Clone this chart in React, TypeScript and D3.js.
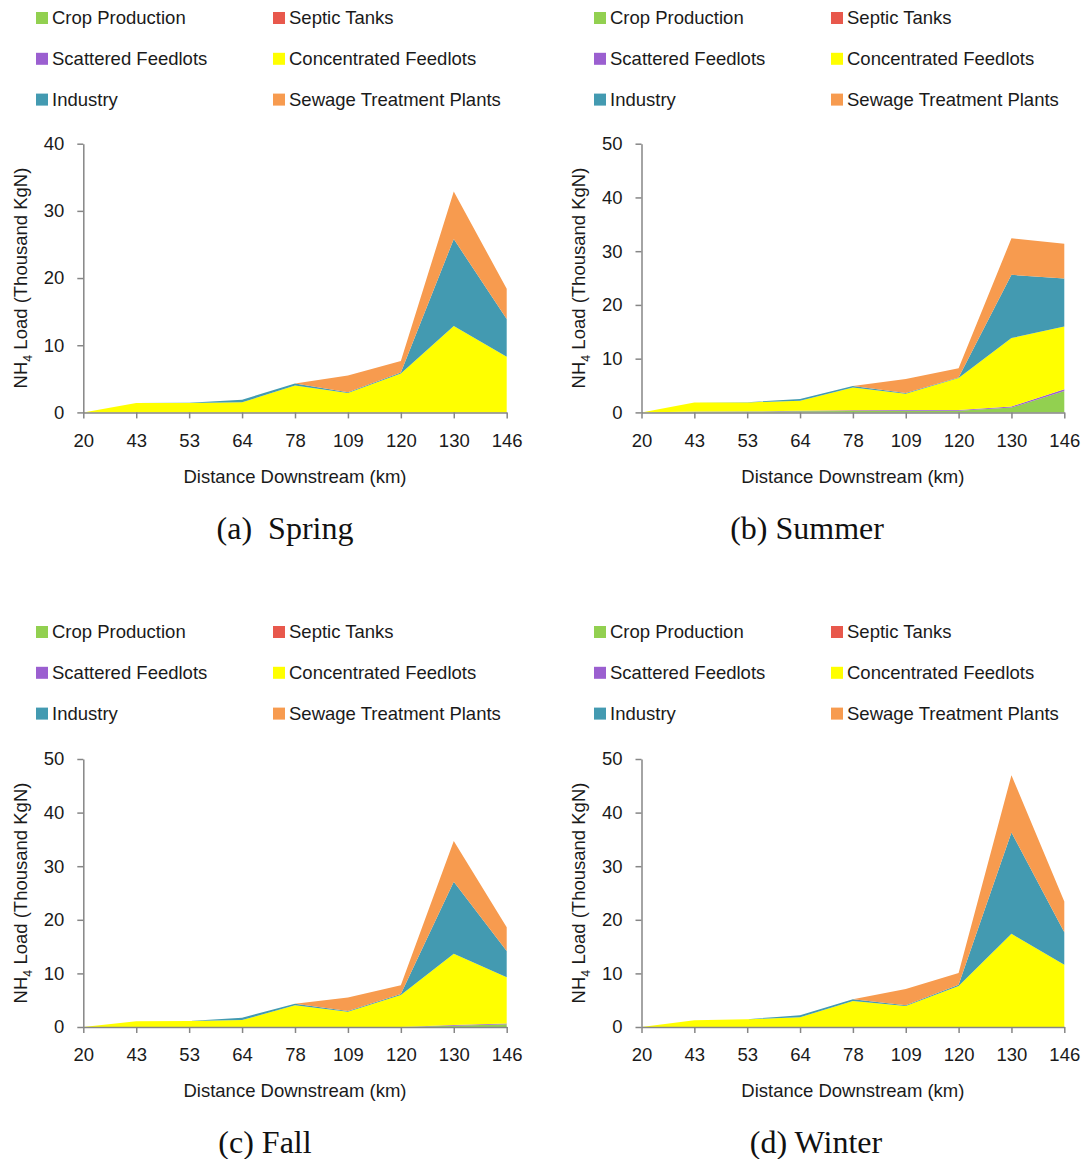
import React, { useEffect, useRef } from 'react';
import * as d3 from 'd3';

const distances = ['20', '43', '53', '64', '78', '109', '120', '130', '146'];
const sources = ['Crop Production', 'Septic Tanks', 'Scattered Feedlots', 'Concentrated Feedlots', 'Industry', 'Sewage Treatment Plants'];
const colors = ['#92d050', '#e8584c', '#9b5fd0', '#ffff00', '#439ab1', '#f79b4f'];

// values in thousand kgN, one array per source, per season
const springCrop = [0, 0, 0, 0, 0, 0, 0, 0, 0];
const springSeptic = [0, 0, 0, 0, 0, 0, 0, 0, 0];
const springScattered = [0, 0, 0, 0, 0, 0, 0, 0, 0];
const springConcentrated = [0, 1.39, 1.4, 1.5, 4.0, 2.9, 5.8, 12.85, 8.3];
const springIndustry = [0, 0, 0.05, 0.4, 0.3, 0.1, 0.15, 12.95, 5.6];
const springSewage = [0, 0, 0, 0, 0, 2.5, 1.7, 7.1, 4.5];

const summerCrop = [0, 0.1, 0.15, 0.2, 0.25, 0.3, 0.3, 0.9, 4.0];
const summerSeptic = [0, 0, 0, 0, 0, 0, 0, 0, 0];
const summerScattered = [0, 0.05, 0.05, 0.1, 0.15, 0.15, 0.15, 0.2, 0.3];
const summerConcentrated = [0, 1.71, 1.66, 1.87, 4.25, 3.02, 5.94, 12.73, 11.7];
const summerIndustry = [0, 0, 0.04, 0.31, 0.25, 0.13, 0.11, 11.77, 8.9];
const summerSewage = [0, 0, 0, 0, 0, 2.6, 1.7, 6.8, 6.5];

const fallCrop = [0, 0, 0, 0, 0, 0, 0, 0.25, 0.5];
const fallSeptic = [0, 0, 0, 0, 0, 0, 0, 0, 0];
const fallScattered = [0, 0, 0, 0, 0, 0, 0, 0.1, 0.15];
const fallConcentrated = [0, 1.05, 1.1, 1.3, 4.04, 2.86, 5.96, 13.3, 8.65];
const fallIndustry = [0, 0, 0.02, 0.44, 0.31, 0.14, 0.19, 13.44, 4.9];
const fallSewage = [0, 0, 0, 0, 0, 2.5, 1.65, 7.6, 4.4];

const winterCrop = [0, 0, 0, 0, 0, 0, 0, 0, 0];
const winterSeptic = [0, 0, 0, 0, 0, 0, 0, 0, 0];
const winterScattered = [0, 0, 0, 0, 0, 0, 0, 0, 0];
const winterConcentrated = [0, 1.24, 1.43, 1.8, 4.84, 3.91, 7.64, 17.39, 11.6];
const winterIndustry = [0, 0, 0.03, 0.37, 0.32, 0.13, 0.25, 18.9, 6.1];
const winterSewage = [0, 0, 0, 0, 0, 3.04, 2.17, 10.7, 5.7];

const yTicksSpring = [0, 10, 20, 30, 40];
const yTicksOther = [0, 10, 20, 30, 40, 50];

const font = 'Liberation Sans, Arial, sans-serif';
const fontSize = 18.5;
const textColor = '#1a1a1a';
const axisColor = '#868686';

type PanelProps = {
  series: number[][];
  yTicks: number[];
  x0: number; x1: number; yTop: number; yZero: number;
  legendX: number; legendY: number;
  caption: string; captionX: number;
};

function Panel(p: PanelProps) {
  const ref = useRef<SVGGElement>(null);

  useEffect(() => {
    const g = d3.select(ref.current);
    g.selectAll('*').remove();

    const rows = distances.map((d, i) => {
      const r: any = { dist: d };
      sources.forEach((s, j) => { r[s] = p.series[j][i]; });
      return r;
    });

    const x = d3.scalePoint().domain(distances).range([p.x0, p.x1]);
    const y = d3.scaleLinear().domain([0, d3.max(p.yTicks)!]).range([p.yZero, p.yTop]);

    const stacked = d3.stack().keys(sources)(rows);
    const area = d3.area<any>()
      .x(d => x(d.data.dist)!)
      .y0(d => y(d[0]))
      .y1(d => y(d[1]));

    g.selectAll('path.layer')
      .data(stacked)
      .enter()
      .append('path')
      .attr('class', 'layer')
      .attr('d', area)
      .attr('fill', (d, i) => colors[i]);

    const yAxis = g.append('g')
      .attr('transform', `translate(${p.x0},0)`)
      .call(d3.axisLeft(y).tickValues(p.yTicks).tickSize(6).tickPadding(13).tickSizeOuter(0));
    const xAxis = g.append('g')
      .attr('transform', `translate(0,${p.yZero})`)
      .call(d3.axisBottom(x).tickSize(6).tickPadding(15).tickSizeOuter(0));

    [yAxis, xAxis].forEach(a => {
      a.select('.domain').attr('stroke', axisColor).attr('stroke-width', 1.5);
      a.selectAll('.tick line').attr('stroke', axisColor).attr('stroke-width', 1.5);
      a.selectAll('.tick text')
        .attr('fill', textColor)
        .style('font-family', font)
        .style('font-size', `${fontSize}px`);
    });
  }, [p]);

  const midX = (p.x0 + p.x1) / 2;
  const midY = (p.yTop + p.yZero) / 2;

  return (
    <g>
      {sources.map((s, i) => {
        const col = i % 2;
        const row = Math.floor(i / 2);
        const lx = p.legendX + col * 237;
        const ly = p.legendY + row * 40.8;
        return (
          <g key={s}>
            <rect x={lx} y={ly - 6} width={12} height={12} fill={colors[i]} />
            <text x={lx + 16} y={ly} dy="0.35em" fontFamily={font} fontSize={fontSize} fill={textColor}>{s}</text>
          </g>
        );
      })}
      <g ref={ref} />
      <text transform={`translate(${p.x0 - 63},${midY}) rotate(-90)`} textAnchor="middle" dy="0.35em"
        fontFamily={font} fontSize={fontSize} fill={textColor}>
        NH<tspan fontSize={12.5} dy="5">4</tspan><tspan dy="-5"> Load (Thousand KgN)</tspan>
      </text>
      <text x={midX} y={p.yZero + 64} dy="0.35em" textAnchor="middle" fontFamily={font} fontSize={fontSize} fill={textColor}>
        Distance Downstream (km)
      </text>
      <text x={p.captionX} y={p.yZero + 115} dy="0.35em" textAnchor="middle" style={{ whiteSpace: 'pre' }}
        fontFamily="Liberation Serif, Times New Roman, serif" fontSize={32} fill="#111">
        {p.caption}
      </text>
    </g>
  );
}

export default function App() {
  const spring = [springCrop, springSeptic, springScattered, springConcentrated, springIndustry, springSewage];
  const summer = [summerCrop, summerSeptic, summerScattered, summerConcentrated, summerIndustry, summerSewage];
  const fall = [fallCrop, fallSeptic, fallScattered, fallConcentrated, fallIndustry, fallSewage];
  const winter = [winterCrop, winterSeptic, winterScattered, winterConcentrated, winterIndustry, winterSewage];

  return (
    <svg width={1086} height={1159} style={{ position: 'absolute', left: 0, top: 0, background: '#fff' }}>
      <Panel series={spring} yTicks={yTicksSpring} x0={83.3} x1={506.7} yTop={143.7} yZero={412.4}
        legendX={36} legendY={18} caption="(a)  Spring" captionX={285} />
      <Panel series={summer} yTicks={yTicksOther} x0={641.5} x1={1064.3} yTop={143.7} yZero={412.4}
        legendX={594} legendY={18} caption="(b) Summer" captionX={807} />
      <Panel series={fall} yTicks={yTicksOther} x0={83.3} x1={506.7} yTop={759} yZero={1027}
        legendX={36} legendY={632} caption="(c) Fall" captionX={265} />
      <Panel series={winter} yTicks={yTicksOther} x0={641.5} x1={1064.3} yTop={759} yZero={1027}
        legendX={594} legendY={632} caption="(d) Winter" captionX={816} />
    </svg>
  );
}
